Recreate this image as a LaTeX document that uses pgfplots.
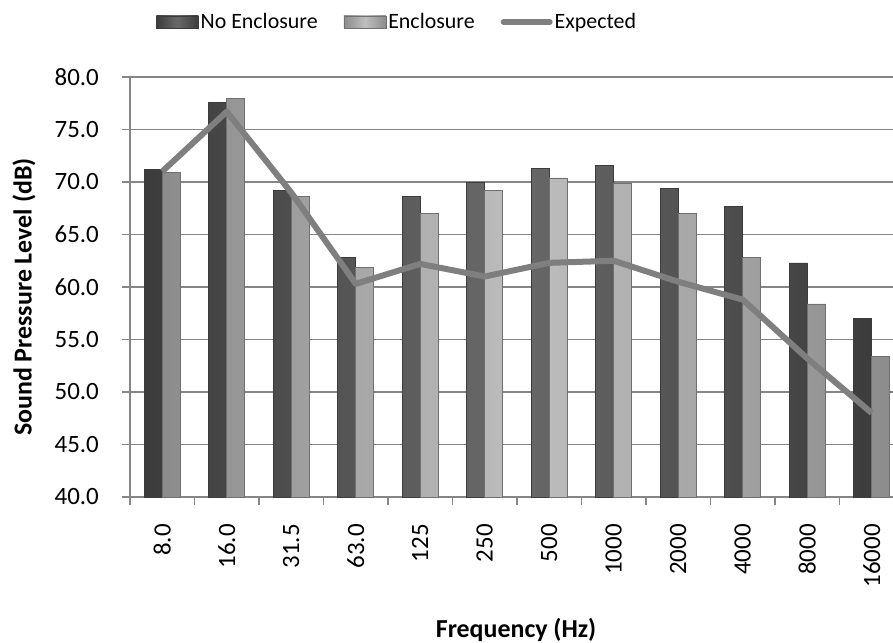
\documentclass[border=0pt]{standalone}
\usepackage{pgfplots}
\pgfplotsset{compat=1.18}
\usepackage{fontspec}
\setmainfont{Carlito}
\definecolor{gridgray}{RGB}{134,134,134}
\definecolor{linegray}{RGB}{127,127,127}
\definecolor{darkA}{RGB}{60,60,60}
\definecolor{darkB}{RGB}{105,105,105}
\definecolor{lightA}{RGB}{140,140,140}
\definecolor{lightB}{RGB}{190,190,190}
\pgfplotsset{
  barlegend/.style={legend image code/.code={\draw[##1, bar shift=0pt] (0bp,-6bp) rectangle (42bp,6bp);}},
  linelegend/.style={legend image code/.code={\draw[##1, line cap=round] (0bp,0bp) -- (46bp,0bp);}},
}
\begin{document}
\begin{tikzpicture}
\begin{axis}[
  scale only axis, width=763bp, height=420bp,
  ymin=40, ymax=80, xmin=-0.5, xmax=11.33,
  axis x line*=bottom, axis y line*=left,
  axis line style={gridgray, line width=1.2bp},
  ymajorgrids, grid style={gridgray, line width=1.2bp},
  tick align=outside, major tick length=8bp,
  tick style={gridgray, line width=1.2bp},
  ytick={40,45,50,55,60,65,70,75,80},
  yticklabel style={anchor=east, inner xsep=23bp,
    /pgf/number format/fixed, /pgf/number format/fixed zerofill, /pgf/number format/precision=1},
  /pgf/number format/assume math mode=true,
  ticklabel style={font=\fontsize{25}{30}\selectfont},
  xtick={-0.5,0.5,1.5,2.5,3.5,4.5,5.5,6.5,7.5,8.5,9.5,10.5},
  xticklabels={,,,,,,,,,,,},
  xticklabel style={rotate=90, anchor=east, inner xsep=27bp},
  extra x ticks={0,1,2,3,4,5,6,7,8,9,10,11},
  extra x tick labels={8.0,16.0,31.5,63.0,125,250,500,1000,2000,4000,8000,16000},
  extra x tick style={major tick length=0pt, grid=none},
  ylabel={\bfseries Sound Pressure Level (dB)},
  xlabel={\bfseries Frequency (Hz)},
  every axis y label/.style={at={(axis description cs:-0.139,0.476)}, rotate=90, anchor=center, font=\fontsize{26}{31}\selectfont},
  every axis x label/.style={at={(axis description cs:0.506,-0.317)}, anchor=center, font=\fontsize{26}{31}\selectfont},
  legend columns=3,
  legend style={at={(axis description cs:0.35,1.131)}, anchor=center, draw=none, fill=none,
    font=\fontsize{22}{26}\selectfont,
    /tikz/every even column/.append style={column sep=24bp}},
]
\addplot[ybar, bar width=18bp, bar shift=-9bp, draw=darkA, line width=0.6bp,
  left color=darkA, right color=darkA, middle color=darkB, barlegend]
  coordinates {(0,71.2) (1,77.6) (2,69.2) (3,62.8) (4,68.6) (5,70.0) (6,71.3) (7,71.6) (8,69.4) (9,67.7) (10,62.3) (11,57.0)};
\addplot[ybar, bar width=18bp, bar shift=9bp, draw=lightA!80!black, line width=0.6bp,
  left color=lightA, right color=lightA, middle color=lightB, barlegend]
  coordinates {(0,70.9) (1,78.0) (2,68.6) (3,61.9) (4,67.0) (5,69.2) (6,70.4) (7,69.9) (8,67.0) (9,62.8) (10,58.4) (11,53.4)};
\addplot[sharp plot, linegray, line width=6bp, line join=round, mark=none, linelegend]
  coordinates {(0,71.0) (1,76.7) (2,69.0) (3,60.3) (4,62.2) (5,61.0) (6,62.3) (7,62.5) (8,60.5) (9,58.8) (10,53.2) (11,48.0)};
\legend{No Enclosure,Enclosure,Expected}
\end{axis}
\pgfresetboundingbox
\path (current axis.south west) ++(-130bp,-146bp) rectangle ++(893bp,643bp);
\end{tikzpicture}
\end{document}
